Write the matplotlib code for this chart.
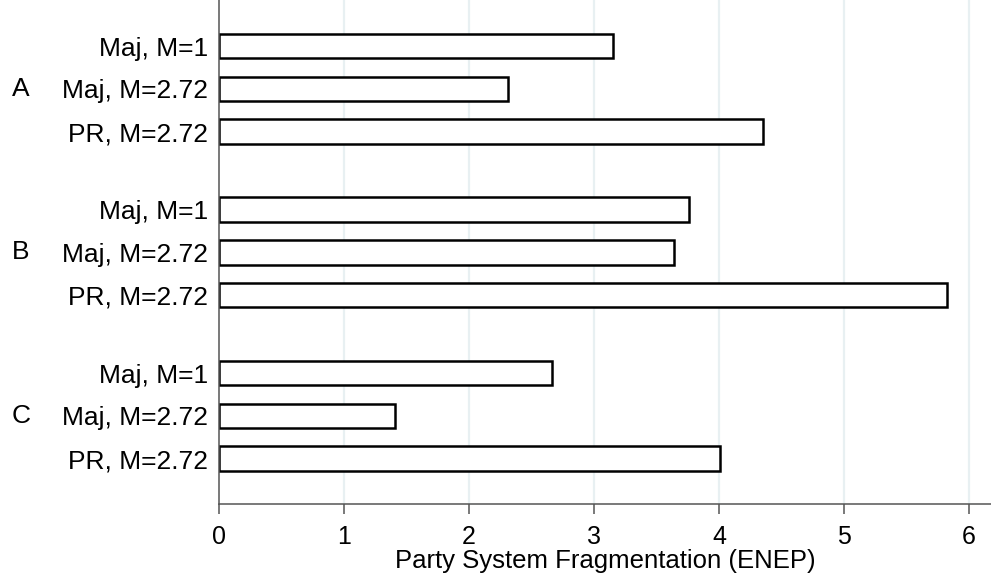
import numpy as np
import matplotlib.pyplot as plt
import matplotlib.transforms as mtransforms

# effective number of electoral parties by scenario and electoral system
groups = ["A", "B", "C"]
systems = ["Maj, M=1", "Maj, M=2.72", "PR, M=2.72"]
enep_A = [3.15, 2.31, 4.35]
enep_B = [3.76, 3.64, 5.82]
enep_C = [2.66, 1.41, 4.01]
x_ticks = [0, 1, 2, 3, 4, 5, 6]

plt.rcParams['font.family'] = ['Liberation Sans', 'DejaVu Sans']

def main():
    values = [enep_A, enep_B, enep_C]
    group_step = 3.825

    fig = plt.figure(figsize=(9.91, 5.8), dpi=100)
    ax = fig.add_axes([219 / 991, 76 / 580, 1 - 219 / 991, 1 - 76 / 580])

    ypos, labels, vals = [], [], []
    for g, vs in enumerate(values):
        for i, v in enumerate(vs):
            ypos.append(g * group_step + i)
            labels.append(systems[i])
            vals.append(v)

    for x in x_ticks[1:]:
        ax.axvline(x, color='#e8f0f2', lw=1.6, zorder=0)

    ax.barh(ypos, vals, height=0.57, color='white', edgecolor='black',
            linewidth=1.8, zorder=2)

    ax.set_xlim(0, 6.176)
    ax.set_ylim(10.71, -1.076)
    ax.set_yticks(ypos)
    ax.set_yticklabels(labels, fontsize=19)
    ax.tick_params(axis='y', length=0, pad=8)
    ax.set_xticks(x_ticks)
    ax.set_xticklabels([str(t) for t in x_ticks], fontsize=18)
    ax.tick_params(axis='x', length=7, width=1.1, color='#555555', pad=8)
    ax.set_xlabel("Party System Fragmentation (ENEP)", fontsize=18.5, labelpad=0)

    for side in ['top', 'right']:
        ax.spines[side].set_visible(False)
    for side in ['left', 'bottom']:
        ax.spines[side].set_color('#555555')
        ax.spines[side].set_linewidth(1.1)

    trans = mtransforms.blended_transform_factory(ax.transAxes, ax.transData)
    for g, name in enumerate(groups):
        ax.text(-0.268, g * group_step + 1, name, transform=trans,
                ha='left', va='center', fontsize=19)

    fig.savefig("out.png", dpi=100)

if __name__ == '__main__':
    main()
